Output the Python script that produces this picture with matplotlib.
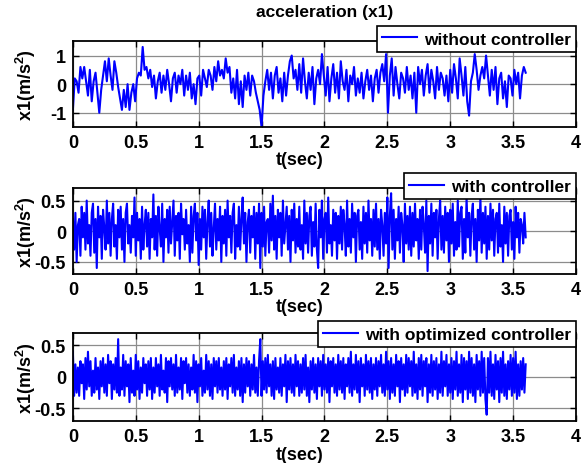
import numpy as np
import matplotlib.pyplot as plt
from matplotlib.ticker import FuncFormatter

plt.rcParams['font.family'] = ['Liberation Sans', 'DejaVu Sans']
plt.rcParams['font.weight'] = 'bold'
plt.rcParams['mathtext.fontset'] = 'custom'
plt.rcParams['mathtext.bf'] = 'Liberation Sans:bold'
plt.rcParams['mathtext.rm'] = 'Liberation Sans:bold'
plt.rcParams['mathtext.default'] = 'bf'

# sample spacing of each trace (s)
dt_free = 0.015
dt_ctrl = 0.01

# acceleration without controller
acc_free = [
    -0.9, 0.2, 0.1, -0.3, 0.6, 0.2, 0.6, 0.1, -0.4, 0.5, -0.6, 0.1, 0.4, -0.3, -1.0, -0.2, 0.3, 0.8, 0.1, 0.9,
    0.3, -0.2, 0.8, 0.4, -0.1, -0.5, -0.9, -0.2, -0.8, 0.0, -0.9, -0.3, 0.0, -0.6, 0.2, 0.4, 0.3, 1.3, 0.5, 0.6,
    0.2, 0.5, -0.1, 0.3, -0.5, 0.1, 0.4, -0.3, 0.3, -0.2, 0.5, 0.0, -0.6, 0.2, 0.4, -0.3, 0.3, 0.0, 0.5, -0.4,
    0.3, -0.2, 0.4, -0.5, 0.0, -0.7, 0.2, 0.3, -0.4, 0.5, 0.2, -0.1, 0.5, 0.3, -0.2, 0.6, 0.1, 0.8, 0.3, 0.5,
    0.2, 0.9, 0.4, 0.6, -0.3, 0.2, -0.5, 0.5, -0.7, 0.1, -0.8, 0.3, -0.2, 0.4, -0.4, 0.3, 0.1, -0.3, -0.6, -0.9,
    -1.5, -0.4, 0.1, 0.5, -0.2, 0.4, -0.5, 0.3, 0.6, -0.3, 0.2, -0.6, 0.4, -0.4, 0.3, 0.8, 1.0, 0.2, 0.5, -0.2,
    0.7, -0.3, 0.9, 0.1, -0.5, 0.4, -0.2, 0.6, -0.7, 0.2, 0.5, 0.0, 1.05, 0.3, -0.4, 0.6, -0.6, 0.2, 0.7, -0.3,
    0.4, -0.5, 0.8, 0.1, -0.2, 0.5, -0.6, 0.3, 0.0, 0.6, -0.4, 0.2, -0.3, 0.4, -0.5, 0.1, 0.5, -0.2, 0.3, -0.6,
    0.2, 0.5, -0.3, 0.4, 0.7, 0.1, 1.05, -1.0, 0.3, 0.9, -0.4, 0.6, 0.0, -0.5, 0.4, 0.2, -0.3, 0.6, -0.2, 0.3,
    -0.5, 0.4, -1.0, 0.6, 0.0, 0.5, -0.4, 0.3, 0.7, -0.3, 0.5, 0.1, -0.5, 0.6, -0.2, 0.4, 0.2, -0.4, 0.3, -0.6,
    0.5, -0.3, 0.7, 0.2, -0.5, 0.9, 0.3, -0.4, 0.6, -0.6, -1.1, 0.1, 0.4, 1.05, 0.5, -0.2, 0.3, 0.6, 0.2, 1.0,
    0.3, -0.4, 0.5, -0.2, 0.6, -0.7, 0.2, 0.4, -0.5, 0.1, -0.8, 0.3, 0.2, -0.4, 0.5, 0.0, 0.4, -0.5, 0.3, 0.6,
    0.4,
]

# acceleration with controller
acc_ctrl = [
    0.2, -0.3, 0.3, -0.5, 0.1, 0.2, -0.4, 0.4, -0.1, 0.3, -0.3, 0.5, -0.2, 0.1, -0.4, 0.3, 0.45, -0.35, 0.2, -0.6, 0.4, -0.1, 0.25, -0.45, 0.35, 0.05, -0.3, 0.5, -0.2, 0.3,
    -0.4, 0.2, 0.45, -0.25, 0.1, -0.45, 0.35, -0.1, 0.4, -0.3, 0.2, -0.5, 0.3, 0.45, -0.2, 0.1, -0.35, 0.25, -0.1, 0.55, -0.4, 0.3, -0.15, 0.2, -0.45, 0.4, -0.3, 0.1, 0.35, -0.25,
    0.3, -0.45, 0.2, -0.1, 0.6, -0.3, 0.25, -0.4, 0.4, 0.05, -0.25, 0.45, -0.5, 0.2, -0.1, 0.35, -0.35, 0.4, -0.2, 0.15, 0.5, -0.4, 0.25, -0.15, 0.3, -0.45, 0.45, -0.05, 0.2, -0.3,
    0.35, -0.2, 0.1, -0.5, 0.4, -0.35, 0.25, 0.45, -0.15, 0.3, -0.55, 0.2, -0.3, 0.4, -0.1, 0.35, -0.45, 0.15, 0.5, -0.25, 0.3, -0.4, 0.05, 0.45, -0.3, 0.2, -0.15, 0.4, -0.5, 0.25,
    -0.2, 0.35, -0.4, 0.5, -0.1, 0.25, -0.35, 0.3, 0.45, -0.45, 0.1, -0.25, 0.4, -0.3, 0.2, 0.55, -0.2, 0.3, -0.5, 0.15, 0.35, -0.35, 0.25, -0.1, 0.4, -0.45, 0.3, -0.2, 0.45, -0.6,
    0.3, -0.25, 0.4, -0.4, 0.15, 0.2, -0.35, 0.45, -0.15, 0.58, -0.3, 0.25, -0.45, 0.35, -0.1, 0.3, -0.4, 0.5, -0.2, 0.1, 0.4, -0.3, 0.25, -0.5, 0.35, -0.15, 0.45, -0.35, 0.2, -0.25,
    0.4, -0.3, 0.1, -0.45, 0.5, -0.2, 0.3, -0.35, 0.25, 0.4, -0.4, 0.15, -0.25, 0.45, -0.3, -0.6, 0.35, -0.1, 0.5, -0.45, 0.2, 0.3, -0.35, 0.55, -0.2, 0.1, -0.4, 0.35, -0.15, 0.3,
    -0.45, 0.25, -0.2, 0.4, -0.3, 0.35, 0.1, -0.4, 0.5, -0.25, 0.2, -0.35, 0.45, -0.1, 0.3, -0.5, 0.25, 0.35, -0.3, 0.15, -0.45, 0.4, -0.2, 0.3, -0.35, 0.5, -0.15, 0.2, -0.4, 0.35,
    -0.25, 0.45, -0.3, 0.2, -0.45, 0.35, 0.1, -0.4, 0.3, -0.2, 0.55, -0.6, 0.25, 0.62, -0.3, 0.35, -0.45, 0.2, -0.15, 0.4, -0.35, 0.3, 0.1, -0.5, 0.45, -0.2, 0.25, -0.3, 0.4, -0.4,
    0.3, -0.25, 0.45, -0.15, 0.2, -0.45, 0.35, -0.3, 0.4, 0.1, -0.35, 0.5, -0.65, 0.25, -0.2, 0.45, -0.4, 0.3, -0.1, 0.35, -0.45, 0.2, 0.5, -0.3, 0.25, -0.35, 0.4, -0.15, 0.3, -0.5,
    0.35, -0.2, 0.45, -0.4, 0.15, -0.3, 0.5, -0.25, 0.3, 0.4, -0.45, 0.2, -0.35, 0.55, -0.1, 0.3, -0.4, 0.25, 0.45, -0.3, 0.2, -0.5, 0.35, -0.15, 0.55, -0.35, 0.3, -0.2, 0.4, -0.45,
    0.25, -0.3, 0.45, -0.15, 0.35, -0.4, 0.2, 0.3, -0.35, 0.45, -0.25, 0.1, -0.5, 0.4, -0.2, 0.3, -0.4, 0.25, 0.35, -0.3, 0.15, -0.45, 0.4, -0.1, 0.3, -0.35, 0.2, 0.1, -0.2, 0.3,
    -0.1,
]

# acceleration with optimized controller
acc_opt = [
    0.4, -0.3, 0.2, -0.25, 0.15, -0.3, 0.25, -0.1, 0.2, -0.35, 0.3, -0.2, 0.4, -0.15, 0.25, -0.3, 0.1, -0.25, 0.3, -0.2, 0.15, -0.35, 0.25, -0.15, 0.3, -0.25, 0.2, -0.3, 0.35, -0.1,
    0.25, -0.35, 0.2, -0.2, 0.3, -0.25, 0.6, -0.3, 0.15, -0.2, 0.35, -0.3, 0.25, -0.15, 0.2, -0.4, 0.3, -0.25, 0.1, -0.3, 0.35, -0.2, 0.25, -0.35, 0.15, -0.25, 0.3, -0.1, 0.2, -0.3,
    0.25, -0.2, 0.3, -0.35, 0.15, -0.25, 0.3, -0.15, 0.2, -0.3, 0.35, -0.2, 0.1, -0.25, 0.3, -0.4, 0.25, -0.15, 0.3, -0.2, 0.2, -0.3, 0.35, -0.25, 0.15, -0.2, 0.3, -0.35, 0.25, -0.1,
    0.3, -0.25, 0.2, -0.3, 0.15, -0.2, 0.35, -0.25, 0.25, -0.4, 0.2, -0.15, 0.3, -0.3, 0.1, -0.25, 0.35, -0.2, 0.25, -0.3, 0.2, -0.35, 0.3, -0.15, 0.25, -0.25, 0.3, -0.2, 0.15, -0.3,
    0.25, -0.2, 0.3, -0.35, 0.2, -0.15, 0.3, -0.25, 0.35, -0.3, 0.15, -0.2, 0.25, -0.3, 0.3, -0.4, 0.2, -0.25, 0.3, -0.15, 0.25, -0.3, 0.2, -0.2, 0.35, -0.25, 0.15, -0.3, 0.25, 0.6,
    -0.3, 0.25, -0.2, 0.3, -0.25, 0.35, -0.15, 0.2, -0.3, 0.25, -0.35, 0.3, -0.2, 0.15, -0.25, 0.3, -0.3, 0.2, -0.15, 0.35, -0.4, 0.25, -0.2, 0.3, -0.25, 0.2, -0.3, 0.35, -0.15, 0.25,
    -0.3, 0.2, -0.25, 0.3, -0.2, 0.35, -0.3, 0.15, -0.4, 0.25, -0.2, 0.3, -0.25, 0.2, -0.35, 0.3, -0.15, 0.25, -0.3, 0.35, -0.2, 0.2, -0.25, 0.3, -0.4, 0.25, -0.15, 0.3, -0.25, 0.2,
    -0.3, 0.35, -0.2, 0.25, -0.25, 0.3, -0.35, 0.2, -0.15, 0.3, -0.25, 0.4, -0.3, 0.2, -0.2, 0.35, -0.25, 0.25, -0.4, 0.3, -0.15, 0.2, -0.3, 0.35, -0.2, 0.25, -0.25, 0.3, -0.35, 0.2,
    -0.2, 0.3, -0.3, 0.25, -0.15, 0.35, -0.25, 0.2, -0.3, 0.4, -0.2, 0.25, -0.35, 0.3, -0.25, 0.2, -0.3, 0.35, -0.15, 0.25, -0.4, 0.3, -0.2, 0.2, -0.3, 0.35, -0.25, 0.3, -0.15, 0.25,
    -0.3, 0.4, -0.25, 0.2, -0.35, 0.3, -0.2, 0.35, -0.3, 0.25, -0.15, 0.3, -0.4, 0.2, -0.25, 0.35, -0.3, 0.25, -0.2, 0.3, -0.35, 0.2, -0.25, 0.4, -0.3, 0.25, -0.15, 0.35, -0.3, 0.2,
    -0.25, 0.3, -0.35, 0.25, -0.2, 0.4, -0.3, 0.2, -0.25, 0.35, -0.4, 0.3, -0.2, 0.25, -0.35, 0.4, -0.25, 0.3, -0.3, 0.2, -0.4, 0.35, -0.2, 0.25, -0.3, 0.4, -0.25, 0.3, -0.35, -0.6,
    0.3, -0.25, 0.4, -0.3, 0.2, -0.35, 0.35, -0.2, 0.25, -0.4, 0.3, -0.25, 0.4, -0.3, 0.2, -0.35, 0.25, -0.2, 0.35, -0.3, 0.3, -0.25, 0.4, -0.35, 0.2, -0.3, 0.25, -0.2, 0.3, -0.25,
    0.2,
]

labels = ['without controller', 'with controller', 'with optimized controller']
x_ticks = [0, 0.5, 1, 1.5, 2, 2.5, 3, 3.5, 4]
y_ticks = [[-1, 0, 1], [-0.5, 0, 0.5], [-0.5, 0, 0.5]]
y_lims = [(-1.5, 1.5), (-0.7, 0.7), (-0.7, 0.7)]

fig = plt.figure(figsize=(5.83, 4.64), dpi=100)
boxes = [
    (0.125, 0.724, 0.863, 0.185),
    (0.125, 0.407, 0.863, 0.185),
    (0.125, 0.0905, 0.863, 0.19),
]
legend_y = [1.175, 1.175, 1.13]

series = [(acc_free, dt_free), (acc_ctrl, dt_ctrl), (acc_opt, dt_ctrl)]

for i, ((vals, dt), box) in enumerate(zip(series, boxes)):
    ax = fig.add_axes(box)
    vals = np.array(vals)
    t = np.arange(len(vals)) * dt
    ax.plot(t, vals, color='#0000ff', lw=1.5, label=labels[i])

    ax.set_xlim(0, 4)
    ax.set_ylim(*y_lims[i])
    ax.set_xticks(x_ticks)
    ax.set_yticks(y_ticks[i])
    ax.xaxis.set_major_formatter(FuncFormatter(lambda v, p: '%g' % v))
    ax.yaxis.set_major_formatter(FuncFormatter(lambda v, p: '%g' % v))
    ax.grid(True, color='0.55', lw=0.9)
    ax.tick_params(direction='in', top=True, right=True, length=4, width=1,
                   labelsize=13, pad=5)
    for lab in ax.get_xticklabels() + ax.get_yticklabels():
        lab.set_fontweight('bold')
    for sp in ax.spines.values():
        sp.set_linewidth(1.3)

    ax.set_xlabel('t(sec)', fontsize=13, fontweight='bold', labelpad=0)
    ax.xaxis.set_label_coords(0.45, -0.28)
    ax.set_ylabel(r'x1(m/s$^{2}$)', fontsize=13, fontweight='bold')
    ax.yaxis.set_label_coords(-0.07, 0.5)

    leg = ax.legend(loc='upper right', bbox_to_anchor=(1.0, legend_y[i]),
                    borderaxespad=0, fancybox=False, framealpha=1,
                    edgecolor='black', prop={'weight': 'bold', 'size': 12.5},
                    handlelength=2.0, handletextpad=0.4, borderpad=0.3)
    leg.get_frame().set_linewidth(1.2)

    if i == 0:
        ax.set_title('acceleration (x1)', fontsize=12.5, fontweight='bold', pad=18)

fig.savefig('out.png', dpi=100)
